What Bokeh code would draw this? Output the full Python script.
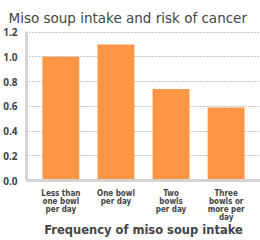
from bokeh.plotting import figure
from bokeh.models import FactorRange, Range1d, FixedTicker, NumeralTickFormatter
from bokeh.embed import file_html
from bokeh.resources import INLINE

categories = ["Less than\none bowl\nper day", "One bowl\nper day", "Two\nbowls\nper day", "Three\nbowls or\nmore per\nday"]
risk = [1.0, 1.1, 0.74, 0.59]
y_ticks = [0.0, 0.2, 0.4, 0.6, 0.8, 1.0, 1.2]

FONT = "DejaVu Sans"
TXT = "#444444"

p = figure(width=260, height=240, output_backend="svg", toolbar_location=None,
           x_range=FactorRange(factors=categories, range_padding=0.124, range_padding_units="absolute"),
           y_range=Range1d(0, 1.205),
           min_border_left=21, min_border_right=0, min_border_top=31, min_border_bottom=0,
           title="Miso soup intake and risk of cancer")

p.vbar(x=categories, top=risk, width=0.67, fill_color="#FF9645", line_color=None)

p.title.text_font = FONT
p.title.text_font_size = "13.5px"
p.title.text_font_style = "normal"
p.title.text_color = TXT
p.title.offset = -18
p.title.standoff = 12

p.outline_line_color = None
p.xgrid.grid_line_color = None
p.ygrid.grid_line_color = "#8a8a8a"
p.ygrid.grid_line_dash = "1 2"
p.ygrid.grid_line_width = 1

p.yaxis.ticker = FixedTicker(ticks=y_ticks)
p.yaxis.formatter = NumeralTickFormatter(format="0.0")
for ax in (p.xaxis, p.yaxis):
    ax.axis_line_color = "#d4d4d4"
    ax.axis_line_width = 3
    ax.major_tick_line_color = None
    ax.minor_tick_line_color = None
    ax.major_label_text_font_style = "bold"
    ax.major_label_text_color = TXT

p.yaxis.major_label_text_font = "Noto Sans"
p.yaxis.major_label_text_font_size = "10px"
p.yaxis.major_label_standoff = 3
p.xaxis.major_label_text_font = "DejaVu Sans Condensed"
p.xaxis.major_label_text_font_size = "8px"
p.xaxis.major_label_text_line_height = 0.92
p.xaxis.major_label_standoff = 2
p.xaxis.axis_label = "Frequency of miso soup intake"
p.xaxis.axis_label_text_font = FONT
p.xaxis.axis_label_text_font_size = "11.5px"
p.xaxis.axis_label_text_font_style = "bold"
p.xaxis.axis_label_text_color = TXT
p.xaxis.axis_label_text_line_height = 1.0
p.xaxis.axis_label_standoff = -2

open("out.html", "w").write(file_html(p, INLINE))
